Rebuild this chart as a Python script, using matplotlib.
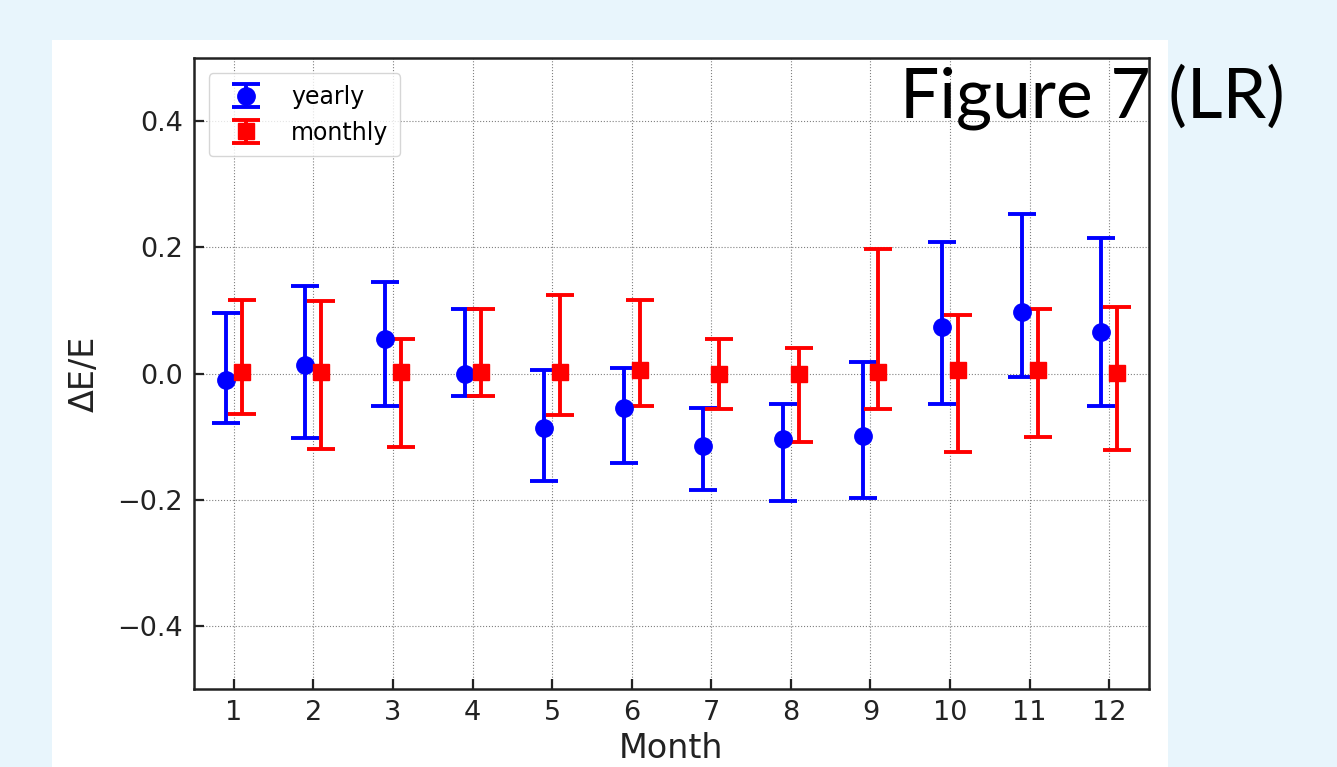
import matplotlib.pyplot as plt
from matplotlib.patches import Rectangle
import numpy as np

plt.rcParams['font.family'] = ['DejaVu Sans']

# values
months = [1, 2, 3, 4, 5, 6, 7, 8, 9, 10, 11, 12]

yearly_mean = [-0.010, 0.014, 0.055, 0.000, -0.087, -0.054, -0.115, -0.104, -0.099, 0.073, 0.097, 0.065]
yearly_low = [-0.079, -0.103, -0.051, -0.036, -0.171, -0.142, -0.185, -0.202, -0.198, -0.049, -0.006, -0.051]
yearly_high = [0.096, 0.139, 0.145, 0.102, 0.005, 0.009, -0.055, -0.049, 0.018, 0.208, 0.253, 0.215]

monthly_mean = [0.003, 0.003, 0.003, 0.002, 0.003, 0.005, 0.000, 0.000, 0.003, 0.005, 0.005, 0.001]
monthly_low = [-0.064, -0.120, -0.116, -0.036, -0.065, -0.051, -0.057, -0.109, -0.057, -0.124, -0.101, -0.122]
monthly_high = [0.117, 0.115, 0.055, 0.102, 0.125, 0.117, 0.055, 0.040, 0.197, 0.092, 0.103, 0.105]

bg = '#e8f5fc'
W, H = 1337, 767

fig = plt.figure(figsize=(W / 100, H / 100), dpi=100, facecolor=bg)
# white panel behind the chart
fig.patches.append(Rectangle((52 / W, 0), (1168 - 52) / W, (767 - 40) / H,
                             transform=fig.transFigure, facecolor='white',
                             edgecolor='none', zorder=-10))

ax = fig.add_axes([194 / W, (H - 689) / H, (1149 - 194) / W, (689 - 58) / H])
ax.set_zorder(1)

x = np.array(months)
ym = np.array(yearly_mean)
mm = np.array(monthly_mean)
yerr_y = [ym - np.array(yearly_low), np.array(yearly_high) - ym]
yerr_m = [mm - np.array(monthly_low), np.array(monthly_high) - mm]

ax.errorbar(x - 0.1, ym, yerr=yerr_y, fmt='o', color='blue', ms=12.5,
            elinewidth=2.8, capsize=10, capthick=2.8, label='yearly', zorder=3)
ax.errorbar(x + 0.1, mm, yerr=yerr_m, fmt='s', color='red', ms=11.5,
            elinewidth=2.8, capsize=10, capthick=2.8, label='monthly', zorder=3)

ax.set_xlim(0.5, 12.5)
ax.set_ylim(-0.5, 0.5)
ax.set_xticks(months)
ax.set_yticks([-0.4, -0.2, 0.0, 0.2, 0.4])
ax.grid(True, linestyle=':', color='gray', linewidth=0.8)
ax.set_axisbelow(True)

ax.tick_params(direction='in', length=7, width=1.6, labelsize=19.5, colors='#222222', pad=8)
for s in ax.spines.values():
    s.set_linewidth(1.8)
    s.set_color('#222222')

ax.set_xlabel('Month', fontsize=24, color='#222222', labelpad=4)
ax.set_ylabel('ΔE/E', fontsize=24, color='#222222', labelpad=12)

leg = ax.legend(loc='upper left', fontsize=17, borderpad=0.5, handlelength=2.2,
                bbox_to_anchor=(0.003, 0.995))

txt = fig.text(900 / W, (H - 118) / H, 'Figure 7 (LR)', fontsize=50,
               family='Lato', color='black', ha='left', va='baseline')
txt.set_zorder(5)

fig.savefig('out.png', dpi=100, facecolor=bg)
